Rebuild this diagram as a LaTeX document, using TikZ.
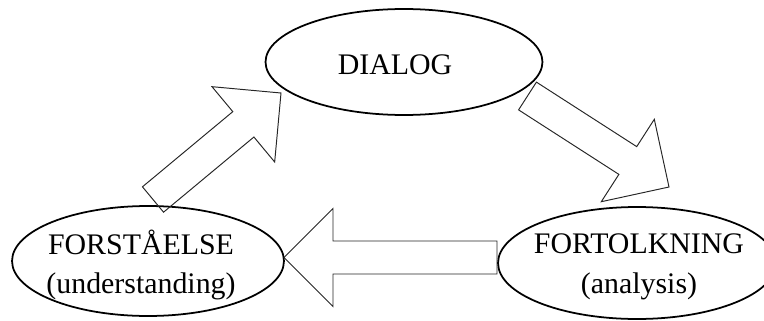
\documentclass[tikz,border=0pt]{standalone}
\usepackage{fontspec}
\setmainfont{Liberation Serif}
\usetikzlibrary{shapes.geometric, calc}

\tikzset{
  bubble/.style={ellipse, draw, line width=1pt, inner sep=0pt},
  caption/.style={font=\fontsize{17}{22.5}\selectfont, align=center, inner sep=0pt},
  hollow/.style={draw=black!85, line width=0.55pt, line join=miter},
}
% outlined block arrow from #1 to #2
\newcommand{\fatarrow}[2]{%
  \path ($(#2)!0.98cm!(#1)$) coordinate (hb);
  \draw[hollow] ($(#1)!0.33cm!90:(#2)$) -- ($(hb)!0.33cm!90:(#2)$)
    -- ($(hb)!0.98cm!90:(#2)$) -- (#2) -- ($(hb)!0.98cm!-90:(#2)$)
    -- ($(hb)!0.33cm!-90:(#2)$) -- ($(#1)!0.33cm!-90:(#2)$) -- cycle;}

\begin{document}
\begin{tikzpicture}[x=0.02cm, y=-0.02cm]
  \useasboundingbox (0,0) rectangle (764,321);
  \clip (0,0) rectangle (764,321);
  \node[bubble, minimum width=5.54cm, minimum height=2.12cm,
    label={[caption, xshift=-0.18cm, yshift=-0.05cm]center:DIALOG}] (dialog) at (404,62) {};
  \node[bubble, minimum width=5.44cm, minimum height=2.2cm,
    label={[caption, xshift=-0.14cm, yshift=-0.08cm]center:FORSTÅELSE\\(understanding)}] (understanding) at (148,261) {};
  \node[bubble, minimum width=5.56cm, minimum height=2.24cm,
    label={[caption, xshift=0.04cm, yshift=-0.08cm]center:FORTOLKNING\\(analysis)}] (analysis) at (637,263) {};
  \coordinate (fromU) at (153,199.5);
  \coordinate (toD) at (281,93);
  \coordinate (fromD) at (527.5,96);
  \coordinate (toA) at (669,187);
  \coordinate (fromA) at (497,257.5);
  \coordinate (toU) at (284,257.5);
  \fatarrow{fromU}{toD}
  \fatarrow{fromD}{toA}
  \fatarrow{fromA}{toU}
\end{tikzpicture}
\end{document}
